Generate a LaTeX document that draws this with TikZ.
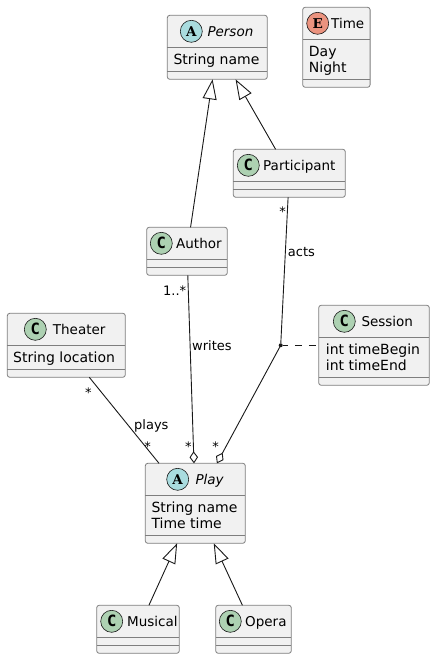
\documentclass[tikz,border=0pt]{standalone}
\usepackage{fontspec}
\setmainfont{DejaVu Sans}
\newfontfamily\spotfont{DejaVu Serif}
\newfontfamily\spotmono{DejaVu Sans Mono}
\usetikzlibrary{arrows.meta}
\definecolor{boxfill}{HTML}{F1F1F1}
\definecolor{boxline}{HTML}{7E7E7E}
\definecolor{inkline}{HTML}{181818}
\definecolor{spotc}{HTML}{ADD1B2}
\definecolor{spota}{HTML}{A9DCDF}
\definecolor{spote}{HTML}{EB937F}
\tikzset{
    classbox/.style={draw=boxline, line width=0.8pt, fill=boxfill, rounded corners=2.5pt, inner sep=0pt, outer sep=0pt},
    sepline/.style={draw=boxline, line width=0.8pt},
    spot/.style={draw=inkline, line width=0.6pt, circle, inner sep=0pt, outer sep=0pt, minimum size=22pt, font=\spotfont\bfseries\fontsize{13.5}{15}\selectfont},
    spotletter/.style={spot, font=\spotmono\bfseries\fontsize{15.5}{15}\selectfont},
    title/.style={anchor=base west, inner sep=0pt, font=\fontsize{13.5}{16}\selectfont},
    member/.style={anchor=base west, inner sep=0pt, font=\fontsize{14}{16}\selectfont},
    edgelabel/.style={anchor=base west, inner sep=0pt, font=\fontsize{13}{15}\selectfont},
    assoc/.style={draw=inkline, line width=0.9pt},
    inherit/.style={assoc, {Triangle[open, fill=white, length=20pt, width=14pt]}-},
    aggr/.style={assoc, -{Diamond[open, fill=white, length=12pt, width=8.5pt]}},
}
\begin{document}
\begin{tikzpicture}[x=1pt, y=-1pt]
    \useasboundingbox (0,0) rectangle (435,659);

    \node[classbox, minimum width=100pt, minimum height=64pt] (person) at (217.3,47.3) {};
    \node[classbox, minimum width=67.4pt, minimum height=80pt] (time) at (336.4,47.3) {};
    \node[classbox, minimum width=112pt, minimum height=48pt] (participant) at (289.3,173.3) {};
    \node[classbox, minimum width=80.6pt, minimum height=48pt] (author) at (187,251.3) {};
    \node[classbox, minimum width=118pt, minimum height=64pt] (theater) at (66.3,345.3) {};
    \node[classbox, minimum width=110.6pt, minimum height=80pt] (session) at (374,345.3) {};
    \node[classbox, minimum width=100pt, minimum height=80pt] (play) at (195.3,503.3) {};
    \node[classbox, minimum width=82.6pt, minimum height=48pt] (musical) at (138,629.3) {};
    \node[classbox, minimum width=75.6pt, minimum height=48pt] (opera) at (253.5,629.3) {};

    \draw[sepline] (person.west |- 0,47.3) -- (person.east |- 0,47.3) (person.west |- 0,71.3) -- (person.east |- 0,71.3);
    \draw[sepline] (time.west |- 0,39.3) -- (time.east |- 0,39.3) (time.west |- 0,79.3) -- (time.east |- 0,79.3);
    \draw[sepline] (participant.west |- 0,181.3) -- (participant.east |- 0,181.3) (participant.west |- 0,189.3) -- (participant.east |- 0,189.3);
    \draw[sepline] (author.west |- 0,259.3) -- (author.east |- 0,259.3) (author.west |- 0,267.3) -- (author.east |- 0,267.3);
    \draw[sepline] (theater.west |- 0,345.3) -- (theater.east |- 0,345.3) (theater.west |- 0,369.3) -- (theater.east |- 0,369.3);
    \draw[sepline] (session.west |- 0,337.3) -- (session.east |- 0,337.3) (session.west |- 0,377.3) -- (session.east |- 0,377.3);
    \draw[sepline] (play.west |- 0,495.3) -- (play.east |- 0,495.3) (play.west |- 0,535.3) -- (play.east |- 0,535.3);
    \draw[sepline] (musical.west |- 0,637.3) -- (musical.east |- 0,637.3) (musical.west |- 0,645.3) -- (musical.east |- 0,645.3);
    \draw[sepline] (opera.west |- 0,637.3) -- (opera.east |- 0,637.3) (opera.west |- 0,645.3) -- (opera.east |- 0,645.3);

    \node[spot, fill=spota] (personspot) at (191.3,31.3) {A};
    \node[spot, fill=spote] (timespot) at (317.7,23.3) {E};
    \node[spotletter, fill=spotc] (participantspot) at (248.3,165.3) {C};
    \node[spotletter, fill=spotc] (authorspot) at (161.3,243.3) {C};
    \node[spotletter, fill=spotc] (theaterspot) at (35.3,329.3) {C};
    \node[spotletter, fill=spotc] (sessionspot) at (344.3,321.3) {C};
    \node[spot, fill=spota] (playspot) at (177.7,479.3) {A};
    \node[spotletter, fill=spotc] (musicalspot) at (111.7,621.3) {C};
    \node[spotletter, fill=spotc] (operaspot) at (230.3,621.3) {C};

    \node[title] (persontitle) at (207.3,36.3) {\itshape Person};
    \node[title] (timetitle) at (331,28.3) {Time};
    \node[title] (participanttitle) at (263,170.3) {Participant};
    \node[title] (authortitle) at (176,248.3) {Author};
    \node[title] (theatertitle) at (52.7,334.3) {Theater};
    \node[title] (sessiontitle) at (361.3,326.3) {Session};
    \node[title] (playtitle) at (195.3,484.3) {\itshape Play};
    \node[title] (musicaltitle) at (127,626.3) {Musical};
    \node[title] (operatitle) at (245,626.3) {Opera};

    \node[member] (personname) at (173.3,64) {String name};
    \node[member] (timeday) at (308.7,56) {Day};
    \node[member] (timenight) at (308.7,72) {Night};
    \node[member] (theaterlocation) at (13,362) {String location};
    \node[member] (sessionbegin) at (325.7,354) {int timeBegin};
    \node[member] (sessionend) at (325.7,370) {int timeEnd};
    \node[member] (playname) at (151.3,512) {String name};
    \node[member] (playtime) at (151.3,528) {Time time};

    \node[circle, fill=inkline, inner sep=0pt, minimum size=4pt] (session link) at (280.7,345.3) {};

    \draw[inherit] (person) -- (author);
    \draw[inherit] (person) -- (participant);
    \draw[inherit] (play) -- (musical);
    \draw[inherit] (play) -- (opera);
    \draw[assoc] ([xshift=23pt]theater.south) -- ([xshift=-36.3pt]play.north);
    \draw[aggr] (author) -- (play);
    \draw[assoc] (participant) -- (session link);
    \draw[aggr] (session link) -- ([xshift=21.6pt]play.north);
    \draw[assoc, dash pattern=on 7pt off 7pt, dash phase=2pt] (session link) -- (session);

    \node[edgelabel] (actslabel) at (287.7,256) {acts};
    \node[edgelabel] (writeslabel) at (192,350) {writes};
    \node[edgelabel] (playslabel) at (134,429) {plays};
    \node[edgelabel] (authormult) at (163,295.5) {1..*};
    \node[edgelabel] (participantmult) at (279.2,216) {*};
    \node[edgelabel] (theatermult) at (85,397.5) {*};
    \node[edgelabel] (playsmult) at (144.2,451.5) {*};
    \node[edgelabel] (writesmult) at (185,451.5) {*};
    \node[edgelabel] (actsmult) at (212.2,451.5) {*};
\end{tikzpicture}
\end{document}
